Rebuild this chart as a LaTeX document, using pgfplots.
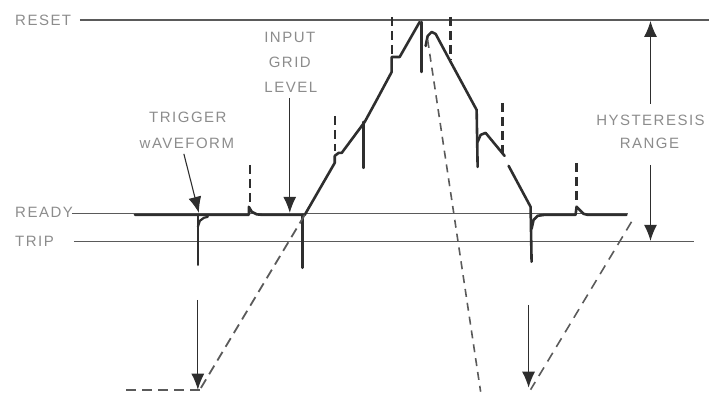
\documentclass[border=0pt]{standalone}
\usepackage{pgfplots}
\pgfplotsset{compat=1.18}
\usepackage{fontspec}
\setmainfont{Liberation Sans}[LetterSpace=10]
\usetikzlibrary{arrows.meta}
\definecolor{ink}{HTML}{2E2E2E}
\definecolor{thinc}{HTML}{5A5A5A}
\definecolor{lett}{HTML}{8C8C8C}
\tikzset{lab/.style={font=\fontsize{15}{17}\selectfont, text=lett, inner sep=0pt}}
\begin{document}
\begin{tikzpicture}
\begin{axis}[
  width=710pt, height=392pt, scale only axis,
  xmin=0, xmax=710, ymin=0, ymax=392, y dir=reverse,
  axis lines=none, clip=false,
]
% frame to fix bounding box
\addplot[draw=none] coordinates {(0,0) (710,392)};
% reference levels
\addplot[thinc, line width=1.1pt] coordinates {(80,20) (710,20)};
\addplot[thinc, line width=1.1pt] coordinates {(72,214) (628,214)};
\addplot[thinc, line width=1.1pt] coordinates {(74,242) (695,242)};
% waveform, ready level with spikes
\addplot[ink, line width=2.6pt, line cap=round, line join=round] coordinates {(135,215) (249,215) (249,207) (252,212) (257,214.5) (262,215) (305,215)};
\addplot[ink, line width=2.6pt, line cap=round, line join=round] coordinates {(198,215) (198,265)};
\addplot[ink, line width=2.2pt, line cap=round, line join=round] coordinates {(198,227) (200,221) (204,218) (208,217)};
\addplot[ink, line width=2.6pt, line cap=round, line join=round] coordinates {(303,215) (303,268)};
% rising part
\addplot[ink, line width=2.6pt, line cap=round, line join=round] coordinates {(305,215) (335,163) (335,156) (339,153) (342,153) (365,122) (377,100) (392,72) (392,57) (400,57) (420,22)};
\addplot[ink, line width=2.6pt, line cap=round, line join=round] coordinates {(364,122) (364,168)};
\addplot[ink, line width=2.6pt, line cap=round, line join=round] coordinates {(422,22) (422,72)};
% falling part
\addplot[ink, line width=2.6pt, line cap=round, line join=round] coordinates {(426,46) (428,36) (432,32) (436,34) (451,62) (477,110) (478,167)};
\addplot[ink, line width=2.6pt, line cap=round, line join=round] coordinates {(478,142) (481,135) (486,133) (505,156)};
\addplot[ink, line width=2.6pt, line cap=round, line join=round] coordinates {(509,166) (531,207) (532,262)};
\addplot[ink, line width=2.6pt, line cap=round, line join=round] coordinates {(532,229) (534,220) (538,216) (545,215) (576,215) (577,207) (580,210) (584,214) (588,215) (627,215)};
% dashed spikes
\addplot[ink, line width=2.4pt, dash pattern=on 9pt off 5pt] coordinates {(250,165) (250,207)};
\addplot[ink, line width=2.4pt, dash pattern=on 9pt off 5pt] coordinates {(335,116) (335,151)};
\addplot[ink, line width=2.4pt, dash pattern=on 9pt off 5pt] coordinates {(392,17) (392,55)};
\addplot[ink, line width=2.4pt, dash pattern=on 9pt off 5pt] coordinates {(451,17) (451,60)};
\addplot[ink, line width=2.4pt, dash pattern=on 9pt off 5pt] coordinates {(503,103) (503,154)};
\addplot[ink, line width=2.4pt, dash pattern=on 9pt off 5pt] coordinates {(577,163) (577,205)};
% dashed projection lines
\addplot[thinc, line width=1.8pt, dash pattern=on 10pt off 6pt] coordinates {(305,215) (200,390)};
\addplot[thinc, line width=1.8pt, dash pattern=on 10pt off 6pt] coordinates {(200,390) (120,390)};
\addplot[thinc, line width=1.6pt, dash pattern=on 8pt off 6pt] coordinates {(428,40) (481,392)};
\addplot[thinc, line width=1.6pt, dash pattern=on 10pt off 7pt] coordinates {(632,222) (531,390)};
% arrows
\addplot[ink, line width=1.1pt, -{Latex[length=16pt,width=13pt]}] coordinates {(198,300) (198,390)};
\addplot[ink, line width=1.1pt, -{Latex[length=16pt,width=13pt]}] coordinates {(529,305) (529,388)};
\addplot[ink, line width=1.1pt, -{Latex[length=16pt,width=13pt]}] coordinates {(290,98) (290,213)};
\addplot[ink, line width=1.1pt, -{Latex[length=16pt,width=13pt]}] coordinates {(184,154) (199,213)};
\addplot[ink, line width=1.1pt, -{Latex[length=16pt,width=13pt]}] coordinates {(651,104) (651,21)};
\addplot[ink, line width=1.1pt, -{Latex[length=16pt,width=13pt]}] coordinates {(651,165) (651,241)};
% labels
\node[lab, anchor=west] at (axis cs:15,20) {RESET};
\node[lab, anchor=west] at (axis cs:15,213) {READY};
\node[lab, anchor=west] at (axis cs:15,242) {TRIP};
\node[lab] at (axis cs:290,37) {INPUT};
\node[lab] at (axis cs:290,62) {GRID};
\node[lab] at (axis cs:291,87) {LEVEL};
\node[lab] at (axis cs:188,117) {TRIGGER};
\node[lab] at (axis cs:187,143) {wAVEFORM};
\node[lab] at (axis cs:651,120) {HYSTERESIS};
\node[lab] at (axis cs:650,143) {RANGE};
\end{axis}
\end{tikzpicture}
\end{document}
